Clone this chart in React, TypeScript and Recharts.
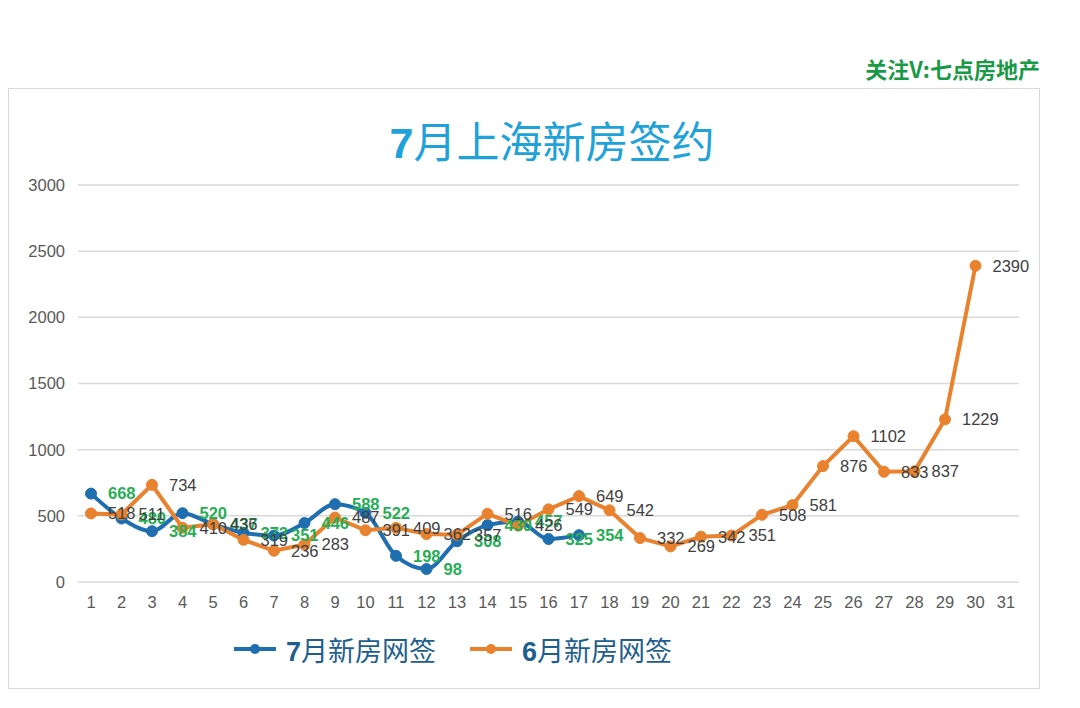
import { LineChart, Line, XAxis, YAxis, CartesianGrid, LabelList } from "recharts"

const days = ["1", "2", "3", "4", "5", "6", "7", "8", "9", "10", "11", "12", "13", "14", "15", "16", "17", "18", "19", "20", "21", "22", "23", "24", "25", "26", "27", "28", "29", "30", "31"]
const julyValues = [668, 480, 384, 520, 437, 372, 351, 446, 588, 522, 198, 98, 308, 430, 457, 325, 354]
const juneValues = [518, 511, 734, 410, 436, 319, 236, 283, 487, 391, 409, 362, 357, 516, 426, 549, 649, 542, 332, 269, 342, 351, 508, 581, 876, 1102, 833, 837, 1229, 2390]
const yTicks = [0, 500, 1000, 1500, 2000, 2500, 3000]

const julyName = "7月新房网签"
const juneName = "6月新房网签"

const BLUE = "#1f6fb0"
const ORANGE = "#e9822f"
const GREEN = "#27ae55"
const NUM_FONT = "'Liberation Sans', Arial, sans-serif"
const CJK_FONT = "'Noto Sans CJK SC', 'Liberation Sans', sans-serif"

const rows = days.map((day, i) => ({
  day,
  jul: julyValues[i],
  jun: juneValues[i],
}))

function LegendItem({ color, label, left }: { color: string; label: string; left: number }) {
  return (
    <div style={{ position: "absolute", left, top: 629, display: "flex", alignItems: "center", height: 40 }}>
      <svg width={46} height={14} style={{ marginRight: 8 }}>
        <line x1={2} y1={7} x2={44} y2={7} stroke={color} strokeWidth={4} />
        <circle cx={23} cy={7} r={5} fill={color} />
      </svg>
      <span style={{ fontFamily: CJK_FONT, fontSize: 27, color: "#1f5f8e", whiteSpace: "nowrap" }}>
        <b style={{ fontFamily: NUM_FONT }}>{label.slice(0, 1)}</b>
        {label.slice(1)}
      </span>
    </div>
  )
}

export default function App() {
  return (
    <div style={{ position: "absolute", left: 0, top: 0, width: 1080, height: 708, background: "#fff", overflow: "hidden" }}>
      <div
        style={{
          position: "absolute",
          right: 40,
          top: 52,
          fontFamily: CJK_FONT,
          fontWeight: 700,
          fontSize: 22,
          color: "#1a9a48",
          whiteSpace: "nowrap",
        }}
      >
        关注V:七点房地产
      </div>
      <div style={{ position: "absolute", left: 8, top: 88, width: 1032, height: 601, border: "1px solid #d9d9d9", boxSizing: "border-box" }} />
      <div
        style={{
          position: "absolute",
          left: 0,
          width: 1104,
          top: 108,
          textAlign: "center",
          fontFamily: CJK_FONT,
          fontSize: 43,
          fontWeight: 400,
          color: "#1ea2d9",
          whiteSpace: "nowrap",
        }}
      >
        <b style={{ fontFamily: NUM_FONT }}>7</b>月上海新房签约
      </div>
      <div style={{ position: "absolute", left: 0, top: 0 }}>
        <LineChart width={1080} height={708} data={rows} margin={{ top: 185, right: 61, bottom: 96, left: 18 }}>
          <CartesianGrid vertical={false} stroke="#d9d9d9" strokeWidth={1.5} />
          <XAxis
            dataKey="day"
            axisLine={false}
            tickLine={false}
            interval={0}
            height={30}
            padding={{ left: 13, right: 13 }}
            tick={{ fontSize: 16.5, fill: "#595959", fontFamily: NUM_FONT }}
            tickMargin={8}
          />
          <YAxis
            width={60}
            domain={[0, 3000]}
            ticks={yTicks}
            axisLine={false}
            tickLine={false}
            tick={{ fontSize: 16.5, fill: "#595959", fontFamily: NUM_FONT }}
            tickMargin={7}
          />
          <Line
            name={julyName}
            dataKey="jul"
            type="monotone"
            stroke={BLUE}
            strokeWidth={4}
            dot={{ r: 5.5, fill: BLUE, stroke: BLUE, strokeWidth: 1 }}
            isAnimationActive={false}
          >
            <LabelList dataKey="jul" position="right" offset={17} fill={GREEN} fontSize={16.5} fontWeight={700} fontFamily={NUM_FONT} />
          </Line>
          <Line
            name={juneName}
            dataKey="jun"
            type="linear"
            stroke={ORANGE}
            strokeWidth={4}
            dot={{ r: 5.5, fill: ORANGE, stroke: ORANGE, strokeWidth: 1 }}
            isAnimationActive={false}
          >
            <LabelList dataKey="jun" position="right" offset={17} fill="#404040" fontSize={16.5} fontFamily={NUM_FONT} />
          </Line>
        </LineChart>
      </div>
      <LegendItem color={BLUE} label={julyName} left={232} />
      <LegendItem color={ORANGE} label={juneName} left={468} />
    </div>
  )
}
